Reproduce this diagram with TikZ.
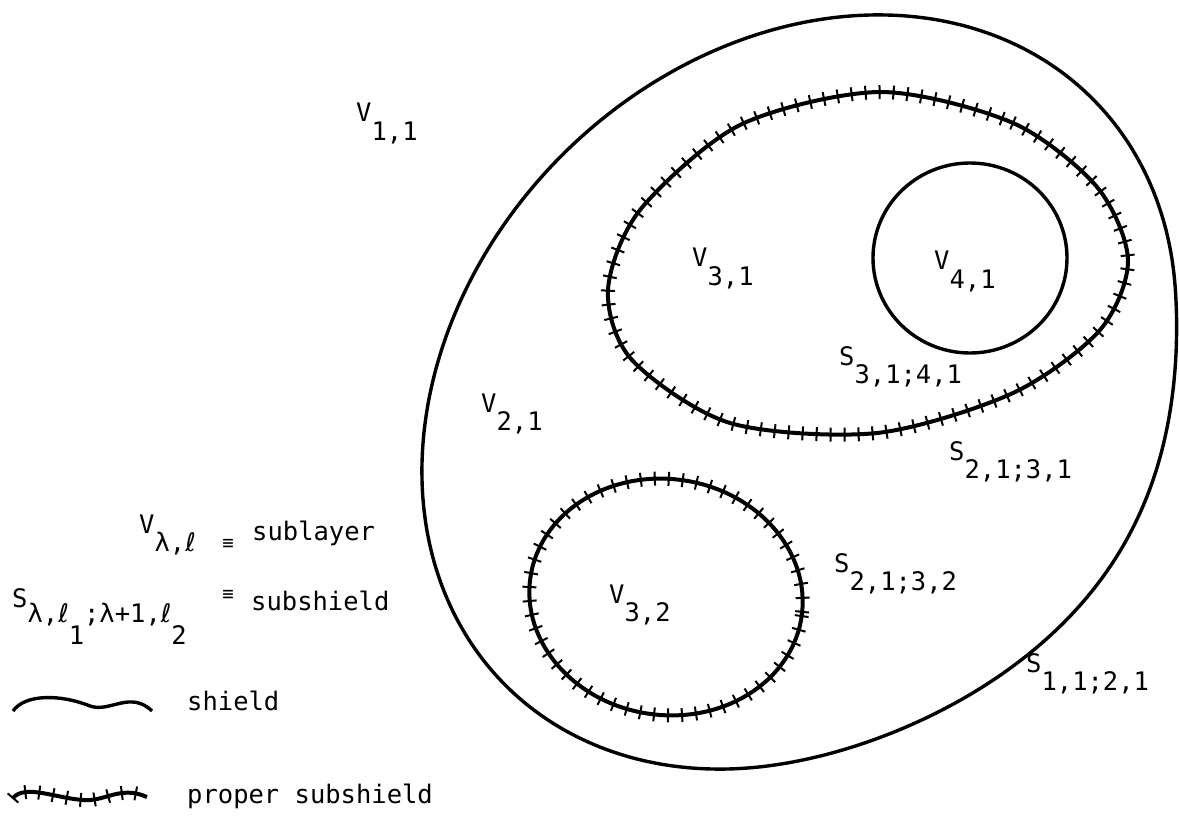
\documentclass[tikz,border=0pt]{standalone}
\usepackage{fontspec}
\setmonofont{DejaVu Sans Mono}
\newfontfamily\ellfont{DejaVu Sans}
\usetikzlibrary{decorations.markings}
\newcommand{\dn}[1]{\raisebox{-0.72em}{#1}}
\newcommand{\ellc}{{\ellfont ℓ}}
\tikzset{
  shield/.style={line width=3.4pt},
  propersub/.style={line width=4pt,
    postaction={decorate,decoration={markings,
      mark=between positions 0 and 1 step 14pt with {\draw[line width=2pt] (0pt,-7pt) -- (0pt,7pt);}}}},
  lbl/.style={inner sep=0pt,anchor=base west,
    font=\ttfamily\fontsize{25.5}{30}\selectfont},
  eqv/.style={inner sep=0pt,font=\ttfamily\fontsize{19}{20}\selectfont}
}

\begin{document}
\begin{tikzpicture}[x=1pt,y=-1pt]
    \useasboundingbox (0,0) rectangle (1179,821);
    % shield S_{1,1;2,1}: tilted egg
    \draw[shield,line join=round] plot[domain=0:360,samples=145,smooth]
      ({799+293.4*cos(\x)+236.9*sin(\x)+(abs(\x-85)<50 ? 22*cos(1.8*(\x-85))*cos(1.8*(\x-85)) : 0)},
       {392-293.4*cos(\x)+236.9*sin(\x)}) -- cycle;
    % proper subshields
    \draw[propersub] plot[smooth cycle] coordinates {(880,92) (1013,123) (1097,187) (1128,260)
      (1100,330) (1013,393) (877,433) (730,423) (632,360) (608,290) (640,210) (740,125)};
    \draw[propersub,rotate around={-8:(666,597)}] (666,597) ellipse [x radius=137,y radius=118];
    % subshield S_{3,1;4,1}
    \draw[shield] (970,258) ellipse [x radius=97,y radius=95];

    \node[lbl] (v11) at (356,122) {V\dn{1,1}};
    \node[lbl] (v21) at (481,412) {V\dn{2,1}};
    \node[lbl] (v31) at (692,267) {V\dn{3,1}};
    \node[lbl] (v41) at (934,270) {V\dn{4,1}};
    \node[lbl] (v32) at (609,603) {V\dn{3,2}};
    \node[lbl] (s3141) at (839,365) {S\dn{3,1;4,1}};
    \node[lbl] (s2131) at (949,460) {S\dn{2,1;3,1}};
    \node[lbl] (s2132) at (834,572) {S\dn{2,1;3,2}};
    \node[lbl] (s1121) at (1026,672) {S\dn{1,1;2,1}};

    % legend
    \node[lbl] (vdef) at (139,533) {V\dn{λ,\ellc}};
    \node[eqv] (eqa) at (228,544) {≡};
    \node[lbl] (sublayer) at (252,540) {sublayer};
    \node[lbl] (sdef) at (12,607) {S\raisebox{-0.62em}{λ,\ellc\raisebox{-0.85em}{1};λ+1,\ellc\raisebox{-0.85em}{2}}};
    \node[eqv] (eqb) at (228,595) {≡};
    \node[lbl] (subshield) at (251,610) {subshield};
    \draw[shield] (13,711) .. controls (25,694) and (60,694) .. (90,706) .. controls (110,713) and (130,690) .. (152,711);
    \node[lbl] (shieldtxt) at (187,710) {shield};
    \draw[propersub] (13,798) .. controls (25,784) and (55,798) .. (83,800) .. controls (105,802) and (120,785) .. (147,797);
    \node[lbl] (propertxt) at (187,803) {proper subshield};
  \end{tikzpicture}
\end{document}
